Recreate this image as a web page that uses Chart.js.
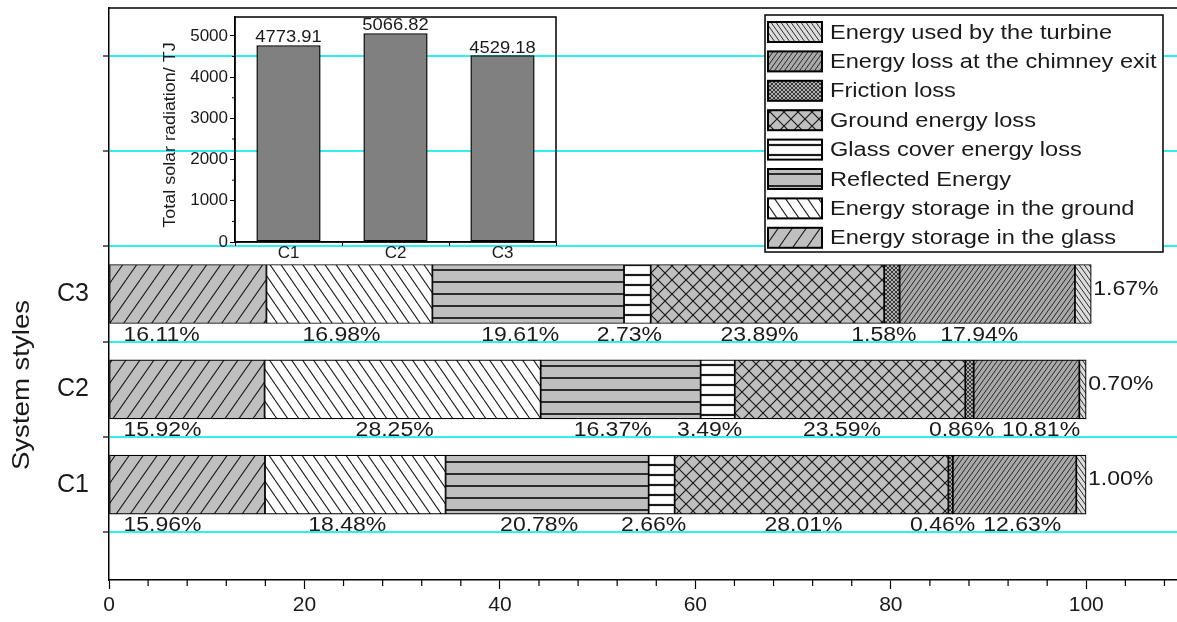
<!DOCTYPE html>
<html>
<head>
<meta charset="utf-8">
<script src="https://cdn.jsdelivr.net/npm/chart.js@4.4.1/dist/chart.umd.min.js"></script>
<style>
  html, body { margin: 0; padding: 0; background: #fff; overflow: hidden; }
  #wrap { position: relative; width: 1185px; height: 622px; }
  #inset { position: absolute; left: 150px; top: 0; }
</style>
</head>
<body>
<div id="wrap">
  <canvas id="main" width="1185" height="622"></canvas>
  <canvas id="inset" width="420" height="275"></canvas>
</div>
<script>
const categories = ['C1', 'C2', 'C3'];
const seriesNames = [
    'Energy storage in the glass',
    'Energy storage in the ground',
    'Reflected Energy',
    'Glass cover energy loss',
    'Ground energy loss',
    'Friction loss',
    'Energy loss at the chimney exit',
    'Energy used by the turbine'
];
// percentages per system style (C1, C2, C3)
const glassStorage = [15.96, 15.92, 16.11];
const groundStorage = [18.48, 28.25, 16.98];
const reflected = [20.78, 16.37, 19.61];
const glassCoverLoss = [2.66, 3.49, 2.73];
const groundLoss = [28.01, 23.59, 23.89];
const frictionLoss = [0.46, 0.86, 1.58];
const chimneyLoss = [12.63, 10.81, 17.94];
const turbineEnergy = [1.00, 0.70, 1.67];
const xTicks = [0, 20, 40, 60, 80, 100];

// inset: total solar radiation (TJ)
const totalRadiation = [4773.91, 5066.82, 4529.18];
const insetTicks = [0, 1000, 2000, 3000, 4000, 5000];

const FONT = '"Liberation Sans", Arial, sans-serif';
Chart.defaults.font.family = FONT;
Chart.defaults.color = '#1a1a1a';

// hatch pattern tiles
const makePattern = (bg, w, h, draw) => {
    const c = document.createElement('canvas');
    c.width = w; c.height = h;
    const g = c.getContext('2d');
    g.fillStyle = bg;
    g.fillRect(0, 0, w, h);
    g.strokeStyle = '#1a1a1a';
    draw(g, w, h);
    return g.createPattern(c, 'repeat');
};
const slash = (lw) => (g, w, h) => {
    g.lineWidth = lw;
    g.beginPath();
    for (const k of [-w, 0, w]) { g.moveTo(k, h); g.lineTo(k + w, 0); }
    g.stroke();
};
const backslash = (lw) => (g, w, h) => {
    g.lineWidth = lw;
    g.beginPath();
    for (const k of [-w, 0, w]) { g.moveTo(k, 0); g.lineTo(k + w, h); }
    g.stroke();
};
const cross = (lw) => (g, w, h) => {
    slash(lw)(g, w, h);
    backslash(lw)(g, w, h);
};
const hline = (lw) => (g, w, h) => {
    g.lineWidth = lw;
    g.beginPath();
    g.moveTo(0, h / 2); g.lineTo(w, h / 2);
    g.stroke();
};

const fills = [
    makePattern('#bfbfbf', 14, 20, slash(1.1)),
    makePattern('#ffffff', 11, 16, backslash(1.1)),
    makePattern('#bfbfbf', 8, 12, hline(1.8)),
    makePattern('#ffffff', 8, 10, hline(2.2)),
    makePattern('#bfbfbf', 14, 14, cross(1.2)),
    makePattern('#b0b0b0', 4, 4, cross(0.8)),
    makePattern('#a9a9a9', 5, 7, slash(0.9)),
    makePattern('#dcdcdc', 5, 7, backslash(0.9))
];

const seriesValues = [glassStorage, groundStorage, reflected, glassCoverLoss,
    groundLoss, frictionLoss, chimneyLoss, turbineEnergy];

const SX = 1.15;
const stretchText = (ctx, text, x, y, align, sx) => {
    ctx.save();
    ctx.translate(x, y);
    ctx.scale(sx, 1);
    ctx.textAlign = align;
    ctx.fillText(text, 0, 0);
    ctx.restore();
};

const decorations = {
    id: 'decorations',
    afterDraw(chart) {
        const ctx = chart.ctx;
        const area = chart.chartArea;
        const xs = chart.scales.x;
        ctx.save();

        // top frame line
        ctx.strokeStyle = '#000';
        ctx.lineWidth = 1.5;
        ctx.beginPath();
        ctx.moveTo(area.left, area.top);
        ctx.lineTo(area.right, area.top);
        ctx.stroke();

        // minor ticks on x
        ctx.lineWidth = 1.2;
        ctx.beginPath();
        for (let v = 4; v < xs.max; v += 4) {
            if (v % 20 === 0) continue;
            const px = xs.getPixelForValue(v);
            ctx.moveTo(px, area.bottom);
            ctx.lineTo(px, area.bottom + 6);
        }
        ctx.stroke();

        // percentage labels, pushed right when they would collide
        ctx.fillStyle = '#1a1a1a';
        ctx.font = '20px ' + FONT;
        const n = chart.data.datasets.length;
        categories.forEach((c, i) => {
            let prevRight = -Infinity;
            chart.data.datasets.forEach((ds, di) => {
                const bar = chart.getDatasetMeta(di).data[i];
                const txt = ds.data[i].x.toFixed(2) + '%';
                const w = ctx.measureText(txt).width * SX;
                if (di === n - 1) {
                    ctx.textBaseline = 'middle';
                    stretchText(ctx, txt, bar.x + 2, bar.y - 5, 'left', SX);
                    return;
                }
                ctx.textBaseline = 'alphabetic';
                const y = bar.y + bar.height / 2 + 17;
                let left = di === 0 ? bar.base + 14 : (bar.x + bar.base) / 2 - 8 - w / 2;
                if (left < prevRight + 8) left = prevRight + 8;
                stretchText(ctx, txt, left, y, 'left', SX);
                prevRight = left + w;
            });
        });

        // y axis title
        ctx.save();
        ctx.font = '24px ' + FONT;
        ctx.translate(22, 385);
        ctx.rotate(-Math.PI / 2);
        ctx.scale(SX, 1);
        ctx.textAlign = 'center';
        ctx.textBaseline = 'middle';
        ctx.fillText('System styles', 0, 0);
        ctx.restore();

        // legend box
        const L = { left: 765, top: 15, width: 398, height: 237 };
        ctx.fillStyle = '#fff';
        ctx.fillRect(L.left, L.top, L.width, L.height);
        ctx.strokeStyle = '#000';
        ctx.lineWidth = 1.5;
        ctx.strokeRect(L.left, L.top, L.width, L.height);
        ctx.font = '20px ' + FONT;
        ctx.textBaseline = 'middle';
        for (let i = 0; i < n; i++) {
            const ds = chart.data.datasets[n - 1 - i];
            const cy = 32 + i * 29.4;
            ctx.fillStyle = ds.backgroundColor;
            ctx.fillRect(768, cy - 10, 54, 20);
            ctx.lineWidth = 2;
            ctx.strokeRect(768, cy - 10, 54, 20);
            ctx.fillStyle = '#1a1a1a';
            stretchText(ctx, ds.label, 830, cy + 1, 'left', 1.18);
        }
        ctx.restore();
    }
};

const isHalf = (v) => Math.abs(v % 1 - 0.5) < 1e-6;

new Chart(document.getElementById('main'), {
    type: 'bar',
    data: {
        datasets: seriesValues.map((vals, si) => ({
            label: seriesNames[si],
            data: vals.map((v, i) => ({ x: v, y: i + 1 })),
            backgroundColor: fills[si],
            borderColor: '#000',
            borderWidth: 1.2,
            borderSkipped: false,
            barThickness: 59
        }))
    },
    options: {
        indexAxis: 'y',
        responsive: false,
        animation: false,
        layout: { padding: { left: 0, top: 8, right: 1, bottom: 0 } },
        plugins: { legend: { display: false }, tooltip: { enabled: false } },
        scales: {
            x: {
                type: 'linear',
                min: 0,
                max: 110,
                stacked: true,
                afterBuildTicks: s => { s.ticks = xTicks.map(v => ({ value: v })); },
                afterFit: s => { s.height = 42; s.paddingLeft = 0; s.paddingRight = 0; },
                ticks: { font: { size: 21 }, color: '#1a1a1a', padding: 4 },
                grid: { drawOnChartArea: false, tickLength: 9, tickColor: '#000', tickWidth: 1.2 },
                border: { color: '#000', width: 1.5 }
            },
            y: {
                type: 'linear',
                min: 0,
                max: 6,
                offset: false,
                stacked: true,
                afterBuildTicks: s => {
                    s.ticks = [0.5, 1, 1.5, 2, 2.5, 3, 3.5, 4.5, 5.5].map(v => ({ value: v }));
                },
                afterFit: s => { s.width = 109; s.paddingTop = 0; s.paddingBottom = 0; },
                ticks: {
                    autoSkip: false,
                    font: { size: 25 },
                    color: '#1a1a1a',
                    padding: 14,
                    callback: v => Number.isInteger(v) ? categories[v - 1] : ''
                },
                grid: {
                    offset: false,
                    color: c => (c.tick && isHalf(c.tick.value)) ? '#2ef0f0' : 'rgba(0,0,0,0)',
                    lineWidth: 2,
                    tickColor: c => (c.tick && isHalf(c.tick.value)) ? '#000' : 'rgba(0,0,0,0)',
                    tickLength: 6,
                    tickWidth: 1.2
                },
                border: { color: '#000', width: 1.5 }
            }
        }
    },
    plugins: [decorations]
});

// inset chart
const insetDecor = {
    id: 'insetDecor',
    afterDraw(chart) {
        const ctx = chart.ctx;
        const area = chart.chartArea;
        const ys = chart.scales.y;
        ctx.save();
        ctx.strokeStyle = '#000';
        ctx.lineWidth = 1.5;
        ctx.strokeRect(area.left, area.top, area.right - area.left, area.bottom - area.top);

        ctx.lineWidth = 1;
        ctx.beginPath();
        for (let v = 500; v < ys.max; v += 1000) {
            const py = ys.getPixelForValue(v);
            ctx.moveTo(area.left - 3, py);
            ctx.lineTo(area.left, py);
        }
        ctx.stroke();

        ctx.fillStyle = '#1a1a1a';
        ctx.font = '17px ' + FONT;
        ctx.textBaseline = 'bottom';
        chart.getDatasetMeta(0).data.forEach((bar, i) => {
            stretchText(ctx, totalRadiation[i].toFixed(2), bar.x, bar.y + 1, 'center', 1.08);
        });

        ctx.save();
        ctx.font = '16px ' + FONT;
        ctx.translate(21, 135);
        ctx.rotate(-Math.PI / 2);
        ctx.scale(1.12, 1);
        ctx.textAlign = 'center';
        ctx.textBaseline = 'middle';
        ctx.fillText('Total solar radiation/ TJ', 0, 0);
        ctx.restore();
        ctx.restore();
    }
};

new Chart(document.getElementById('inset'), {
    type: 'bar',
    data: {
        labels: categories,
        datasets: [{
            data: totalRadiation,
            backgroundColor: '#808080',
            borderColor: '#000',
            borderWidth: 1.5,
            borderSkipped: false,
            barPercentage: 0.6,
            categoryPercentage: 1
        }]
    },
    options: {
        responsive: false,
        animation: false,
        layout: { padding: { left: 0, top: 17, right: 14, bottom: 0 } },
        plugins: { legend: { display: false }, tooltip: { enabled: false } },
        scales: {
            x: {
                afterFit: s => { s.height = 33; },
                ticks: { font: { size: 17 }, color: '#1a1a1a', padding: -3 },
                grid: { drawOnChartArea: false, offset: true, tickLength: 4, tickColor: '#000' },
                border: { color: '#000', width: 1.5 }
            },
            y: {
                min: 0,
                max: 5460,
                afterBuildTicks: s => { s.ticks = insetTicks.map(v => ({ value: v })); },
                afterFit: s => { s.width = 85; },
                ticks: { font: { size: 17 }, color: '#1a1a1a', padding: 2, callback: v => String(v) },
                grid: { drawOnChartArea: false, tickLength: 5, tickColor: '#000' },
                border: { color: '#000', width: 1.5 }
            }
        }
    },
    plugins: [insetDecor]
});
</script>
</body>
</html>
